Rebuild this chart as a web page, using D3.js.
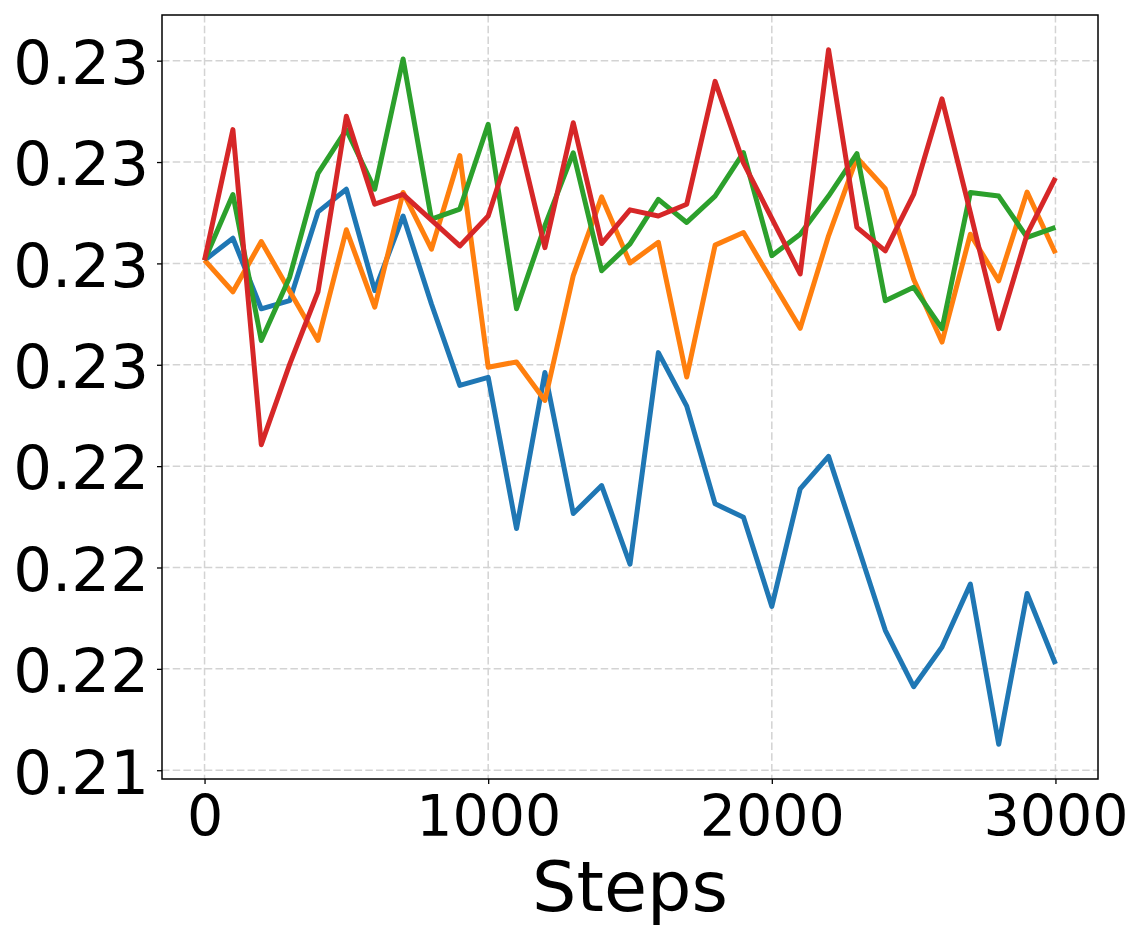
<!DOCTYPE html>
<html>
<head>
<meta charset="utf-8">
<script src="https://cdn.jsdelivr.net/npm/d3@7"></script>
<style>
  html, body { margin: 0; padding: 0; background: #fff; }
  svg { display: block; font-family: "DejaVu Sans", sans-serif; }
</style>
</head>
<body>
<svg id="chart" width="1142" height="939"></svg>
<script>
const steps = d3.range(0, 3001, 100);

const seriesBlue = [0.22758, 0.22812, 0.22638, 0.22658, 0.22877, 0.22933, 0.22683, 0.22867, 0.2265, 0.22449,
  0.22469, 0.22096, 0.22481, 0.22133, 0.22202, 0.22008, 0.2253, 0.22398, 0.22157, 0.22124,
  0.21904, 0.22194, 0.22274, 0.2206, 0.21845, 0.21706, 0.21804, 0.21959, 0.21564, 0.21936, 0.21762];
const seriesOrange = [0.22758, 0.2268, 0.22804, 0.22682, 0.2256, 0.22833, 0.22642, 0.22925, 0.22785, 0.23016,
  0.22494, 0.22507, 0.22412, 0.2272, 0.22914, 0.22751, 0.22802, 0.2247, 0.22795, 0.22826,
  0.22707, 0.2259, 0.22818, 0.23011, 0.22934, 0.22711, 0.22556, 0.22822, 0.22707, 0.22926, 0.22775];
const seriesGreen = [0.22758, 0.2292, 0.2256, 0.22716, 0.22972, 0.2308, 0.22933, 0.23254, 0.22859, 0.22884,
  0.23093, 0.22638, 0.22843, 0.23023, 0.22732, 0.22798, 0.22908, 0.22851, 0.22916, 0.23023,
  0.22769, 0.22822, 0.22916, 0.23021, 0.22658, 0.22691, 0.22589, 0.22925, 0.22916, 0.22814, 0.22839];
const seriesRed = [0.22758, 0.2308, 0.22303, 0.22501, 0.2268, 0.23113, 0.22896, 0.2292, 0.22857, 0.22793,
  0.22867, 0.23082, 0.22789, 0.23097, 0.22799, 0.22882, 0.22867, 0.22896, 0.23199, 0.22998,
  0.22861, 0.22724, 0.23277, 0.22839, 0.22781, 0.2292, 0.23156, 0.22875, 0.22589, 0.22822, 0.22961];

const seriesColors = ["#1f77b4", "#ff7f0e", "#2ca02c", "#d62728"];

const xTicks = [0, 1000, 2000, 3000];
const xTickLabels = ["0", "1000", "2000", "3000"];
const yTicks = [0.215, 0.2175, 0.22, 0.2225, 0.225, 0.2275, 0.23, 0.2325];
const yTickLabels = ["0.21", "0.22", "0.22", "0.22", "0.23", "0.23", "0.23", "0.23"];
const xLabel = "Steps";

const allSeries = [seriesBlue, seriesOrange, seriesGreen, seriesRed];

const svg = d3.select("#chart");
const mLeft = 162, mRight = 1098, mTop = 15, mBottom = 779;

const xPad = (d3.max(steps) - d3.min(steps)) * 0.05;
const x = d3.scaleLinear()
  .domain([d3.min(steps) - xPad, d3.max(steps) + xPad])
  .range([mLeft, mRight]);

const allVals = allSeries.flat();
const yMin = d3.min(allVals), yMax = d3.max(allVals);
const yPad = (yMax - yMin) * 0.05;
const y = d3.scaleLinear()
  .domain([yMin - yPad, yMax + yPad])
  .range([mBottom, mTop]);

// grid
const grid = svg.append("g");
grid.selectAll("line.gx").data(xTicks).enter().append("line")
  .attr("x1", d => x(d)).attr("x2", d => x(d))
  .attr("y1", mTop).attr("y2", mBottom)
  .attr("stroke", "#d3d3d3").attr("stroke-width", 1.5)
  .attr("stroke-dasharray", "7.5,3.2");
grid.selectAll("line.gy").data(yTicks).enter().append("line")
  .attr("x1", mLeft).attr("x2", mRight)
  .attr("y1", d => y(d)).attr("y2", d => y(d))
  .attr("stroke", "#d3d3d3").attr("stroke-width", 1.5)
  .attr("stroke-dasharray", "7.5,3.2");

// lines
const line = d3.line()
  .x((d, i) => x(steps[i]))
  .y(d => y(d));

const plot = svg.append("g");
allSeries.forEach((s, k) => {
  plot.append("path")
    .datum(s)
    .attr("d", line)
    .attr("fill", "none")
    .attr("stroke", seriesColors[k])
    .attr("stroke-width", 5)
    .attr("stroke-linejoin", "round")
    .attr("stroke-linecap", "butt");
});

// axes
const xAxis = d3.axisBottom(x).tickValues(xTicks)
  .tickFormat((d, i) => xTickLabels[i]).tickSize(5).tickPadding(6);
const yAxis = d3.axisLeft(y).tickValues(yTicks)
  .tickFormat((d, i) => yTickLabels[i]).tickSize(5).tickPadding(6);

const gx = svg.append("g").attr("transform", `translate(0,${mBottom})`).call(xAxis);
gx.select(".domain").remove();
gx.selectAll(".tick line").attr("stroke", "#000").attr("stroke-width", 1.3);
gx.selectAll(".tick text")
  .attr("font-size", 57).attr("fill", "#000")
  .attr("font-family", "DejaVu Sans")
  .attr("dy", null).attr("y", 57);

const gy = svg.append("g").attr("transform", `translate(${mLeft},0)`).call(yAxis);
gy.select(".domain").remove();
gy.selectAll(".tick line").attr("stroke", "#000").attr("stroke-width", 1.3);
gy.selectAll(".tick text")
  .attr("font-size", 61).attr("fill", "#000")
  .attr("font-family", "DejaVu Sans")
  .attr("dy", null).attr("y", 22.8).attr("x", -13);

// frame
svg.append("rect")
  .attr("x", mLeft).attr("y", mTop)
  .attr("width", mRight - mLeft).attr("height", mBottom - mTop)
  .attr("fill", "none").attr("stroke", "#000").attr("stroke-width", 1.5);

// x label
svg.append("text")
  .attr("x", (mLeft + mRight) / 2).attr("y", 911)
  .attr("text-anchor", "middle")
  .attr("font-size", 70).attr("fill", "#000")
  .text(xLabel);
</script>
</body>
</html>
